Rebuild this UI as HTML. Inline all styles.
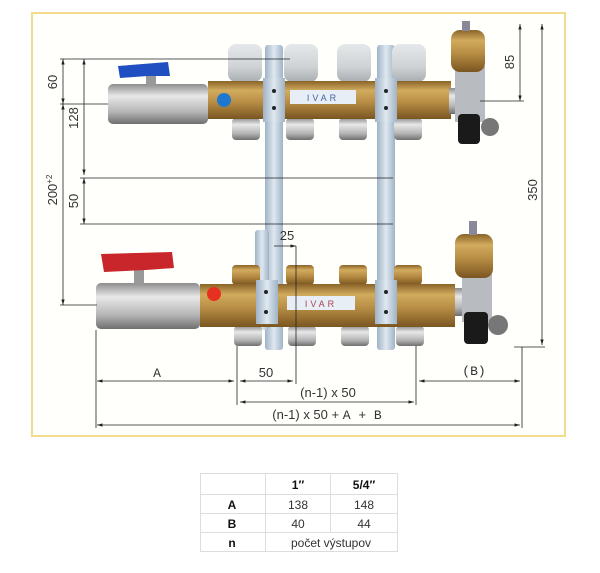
<!DOCTYPE html>
<html><head><meta charset="utf-8"><style>
html,body{margin:0;padding:0;background:#fff;width:600px;height:573px;overflow:hidden}
svg{display:block}
text{font-family:"Liberation Sans",sans-serif;fill:#333}
</style></head><body>
<svg width="600" height="573" viewBox="0 0 600 573" xmlns="http://www.w3.org/2000/svg">
<defs>
<linearGradient id="br" x1="0" y1="0" x2="0" y2="1"><stop offset="0" stop-color="#8a6428"/><stop offset="0.25" stop-color="#d2ab5e"/><stop offset="0.55" stop-color="#b88e45"/><stop offset="1" stop-color="#7a5520"/></linearGradient>
<linearGradient id="ni" x1="0" y1="0" x2="0" y2="1"><stop offset="0" stop-color="#8d8d8d"/><stop offset="0.3" stop-color="#e8e8e8"/><stop offset="0.7" stop-color="#b5b5b5"/><stop offset="1" stop-color="#6f6f6f"/></linearGradient>
<linearGradient id="cap" x1="0" y1="0" x2="0" y2="1"><stop offset="0" stop-color="#e6e8ea"/><stop offset="0.6" stop-color="#cfd3d6"/><stop offset="1" stop-color="#a8adb0"/></linearGradient>
<linearGradient id="st" x1="0" y1="0" x2="1" y2="0"><stop offset="0" stop-color="#9fb3c6"/><stop offset="0.5" stop-color="#dfe8f0"/><stop offset="1" stop-color="#9fb3c6"/></linearGradient>
<marker id="a" viewBox="0 0 10 10" refX="10" refY="5" markerWidth="7" markerHeight="7" orient="auto-start-reverse"><path d="M0,2 L10,5 L0,8z" fill="#222"/></marker>
</defs>
<rect x="32" y="13" width="533" height="423" fill="#fffffb" stroke="#f2dc8c" stroke-width="2"/>

<!-- brackets -->
<rect x="265" y="45" width="18" height="305" fill="url(#st)" rx="3"/>
<rect x="377" y="45" width="18" height="305" fill="url(#st)" rx="3"/>
<rect x="255" y="230" width="14" height="100" fill="url(#st)" rx="3"/>

<!-- top manifold -->
<g>
<rect x="228" y="44" width="34" height="38" rx="8" fill="url(#cap)"/>
<rect x="284" y="44" width="34" height="38" rx="8" fill="url(#cap)"/>
<rect x="337" y="44" width="34" height="38" rx="8" fill="url(#cap)"/>
<rect x="392" y="44" width="34" height="38" rx="8" fill="url(#cap)"/>
<rect x="232" y="118" width="28" height="22" rx="4" fill="url(#ni)"/>
<rect x="286" y="118" width="28" height="22" rx="4" fill="url(#ni)"/>
<rect x="339" y="118" width="28" height="22" rx="4" fill="url(#ni)"/>
<rect x="394" y="118" width="28" height="22" rx="4" fill="url(#ni)"/>
<rect x="208" y="81" width="243" height="38" fill="url(#br)"/>
<rect x="290" y="90" width="66" height="14" fill="#e8eef5"/>
<text x="323" y="101" font-size="9" text-anchor="middle" style="fill:#4466aa;letter-spacing:3px">IVAR</text>
<circle cx="224" cy="100" r="7" fill="#1e78d0"/>
<rect x="263" y="78" width="22" height="44" fill="url(#st)"/>
<rect x="375" y="78" width="22" height="44" fill="url(#st)"/>
<circle cx="274" cy="91" r="2" fill="#222"/><circle cx="274" cy="108" r="2" fill="#222"/>
<circle cx="386" cy="91" r="2" fill="#222"/><circle cx="386" cy="108" r="2" fill="#222"/>
<rect x="108" y="84" width="100" height="40" rx="5" fill="url(#ni)"/>
<rect x="146" y="74" width="10" height="12" fill="#999"/>
<path d="M118,66 L168,62 L170,76 L148,76 L120,78z" fill="#1f4fc0"/>
<rect x="449" y="88" width="8" height="26" fill="url(#ni)"/>
<rect x="455" y="66" width="30" height="56" fill="#b8bcc0"/>
<rect x="451" y="30" width="34" height="42" rx="9" fill="url(#br)"/>
<rect x="462" y="21" width="8" height="10" fill="#889"/>
<rect x="458" y="114" width="22" height="30" rx="4" fill="#1a1a1a"/>
<circle cx="490" cy="127" r="9" fill="#777"/>
</g>

<!-- bottom manifold -->
<g>
<rect x="232" y="265" width="28" height="20" rx="4" fill="url(#br)"/>
<rect x="286" y="265" width="28" height="20" rx="4" fill="url(#br)"/>
<rect x="339" y="265" width="28" height="20" rx="4" fill="url(#br)"/>
<rect x="394" y="265" width="28" height="20" rx="4" fill="url(#br)"/>
<rect x="234" y="326" width="28" height="20" rx="4" fill="url(#ni)"/>
<rect x="288" y="326" width="28" height="20" rx="4" fill="url(#ni)"/>
<rect x="341" y="326" width="28" height="20" rx="4" fill="url(#ni)"/>
<rect x="396" y="326" width="28" height="20" rx="4" fill="url(#ni)"/>
<rect x="200" y="284" width="255" height="43" fill="url(#br)"/>
<rect x="287" y="296" width="68" height="14" fill="#e8eef5"/>
<text x="321" y="307" font-size="9" text-anchor="middle" style="fill:#aa4455;letter-spacing:3px">IVAR</text>
<circle cx="214" cy="294" r="7" fill="#e83020"/>
<rect x="256" y="280" width="22" height="44" fill="url(#st)"/>
<rect x="375" y="280" width="22" height="44" fill="url(#st)"/>
<circle cx="266" cy="292" r="2" fill="#222"/><circle cx="266" cy="312" r="2" fill="#222"/>
<circle cx="386" cy="292" r="2" fill="#222"/><circle cx="386" cy="312" r="2" fill="#222"/>
<rect x="96" y="283" width="104" height="46" rx="5" fill="url(#ni)"/>
<rect x="134" y="270" width="10" height="14" fill="#999"/>
<path d="M101,254 L172,252 L174,268 L146,270 L104,272z" fill="#c8262a"/>
<rect x="455" y="288" width="8" height="28" fill="url(#ni)"/>
<rect x="462" y="270" width="30" height="52" fill="#b8bcc0"/>
<rect x="455" y="234" width="38" height="44" rx="9" fill="url(#br)"/>
<rect x="469" y="221" width="8" height="14" fill="#889"/>
<rect x="464" y="312" width="24" height="32" rx="4" fill="#1a1a1a"/>
<circle cx="498" cy="325" r="10" fill="#777"/>
</g>

<!-- dimension lines -->
<g stroke="#222" stroke-width="0.8" fill="none">
<line x1="60" y1="59" x2="290" y2="59"/>
<line x1="60" y1="104" x2="108" y2="104"/>
<line x1="60" y1="305" x2="97" y2="305"/>
<line x1="63" y1="59" x2="63" y2="104" marker-start="url(#a)" marker-end="url(#a)"/>
<line x1="84" y1="59" x2="84" y2="175" marker-start="url(#a)" marker-end="url(#a)"/>
<line x1="63" y1="104" x2="63" y2="305" marker-start="url(#a)" marker-end="url(#a)"/>
<line x1="80" y1="178" x2="393" y2="178"/>
<line x1="80" y1="224" x2="393" y2="224"/>
<line x1="84" y1="178" x2="84" y2="224" marker-start="url(#a)" marker-end="url(#a)"/>
<line x1="274" y1="246" x2="296" y2="246" marker-end="url(#a)"/>
<line x1="296" y1="246" x2="296" y2="384"/>
<line x1="480" y1="101" x2="524" y2="101"/>
<line x1="520" y1="24" x2="520" y2="101" marker-start="url(#a)" marker-end="url(#a)"/>
<line x1="542" y1="24" x2="542" y2="345" marker-start="url(#a)" marker-end="url(#a)"/>
<line x1="514" y1="347" x2="545" y2="347"/>
<line x1="96" y1="330" x2="96" y2="428"/>
<line x1="237" y1="346" x2="237" y2="405"/>
<line x1="416" y1="346" x2="416" y2="405"/>
<line x1="522" y1="347" x2="522" y2="428"/>
<line x1="97" y1="381" x2="234" y2="381" marker-start="url(#a)" marker-end="url(#a)"/>
<line x1="240" y1="381" x2="293" y2="381" marker-start="url(#a)" marker-end="url(#a)"/>
<line x1="419" y1="381" x2="520" y2="381" marker-start="url(#a)" marker-end="url(#a)"/>
<line x1="240" y1="402" x2="414" y2="402" marker-start="url(#a)" marker-end="url(#a)"/>
<line x1="97" y1="425" x2="520" y2="425" marker-start="url(#a)" marker-end="url(#a)"/>
</g>
<g font-size="13">
<text transform="translate(57,82) rotate(-90)" text-anchor="middle">60</text>
<text transform="translate(78,118) rotate(-90)" text-anchor="middle">128</text>
<text transform="translate(57,190) rotate(-90)" text-anchor="middle">200<tspan font-size="8" dy="-5">+2</tspan></text>
<text transform="translate(78,201) rotate(-90)" text-anchor="middle">50</text>
<text x="287" y="240" text-anchor="middle">25</text>
<text transform="translate(514,62) rotate(-90)" text-anchor="middle">85</text>
<text transform="translate(537,190) rotate(-90)" text-anchor="middle">350</text>
<text x="157" y="377" text-anchor="middle" font-family="Liberation Mono" style="font-family:'Liberation Mono',monospace">A</text>
<text x="266" y="377" text-anchor="middle">50</text>
<text x="474" y="375" text-anchor="middle" style="font-family:'Liberation Mono',monospace">(B)</text>
<text x="328" y="397" text-anchor="middle">(n-1) x 50</text>
<text x="327" y="419" text-anchor="middle">(n-1) x 50 + <tspan style="font-family:'Liberation Mono',monospace">A + B</tspan></text>
</g>

<!-- table -->
<g stroke="#ddd" stroke-width="1" fill="none">
<rect x="200.5" y="473.5" width="197" height="78"/>
<line x1="200" y1="494.5" x2="398" y2="494.5"/>
<line x1="200" y1="513.5" x2="398" y2="513.5"/>
<line x1="200" y1="532.5" x2="398" y2="532.5"/>
<line x1="265.5" y1="473" x2="265.5" y2="552"/>
<line x1="330.5" y1="473" x2="330.5" y2="532"/>
</g>
<g font-size="12" text-anchor="middle">
<text x="298" y="489" font-weight="bold" style="fill:#111">1″</text>
<text x="364" y="489" font-weight="bold" style="fill:#111">5/4″</text>
<text x="232" y="509" font-weight="bold" style="fill:#111">A</text>
<text x="298" y="509">138</text><text x="364" y="509">148</text>
<text x="232" y="528" font-weight="bold" style="fill:#111">B</text>
<text x="298" y="528">40</text><text x="364" y="528">44</text>
<text x="232" y="547" font-weight="bold" style="fill:#111">n</text>
<text x="331" y="547">počet výstupov</text>
</g>
</svg>
</body></html>
